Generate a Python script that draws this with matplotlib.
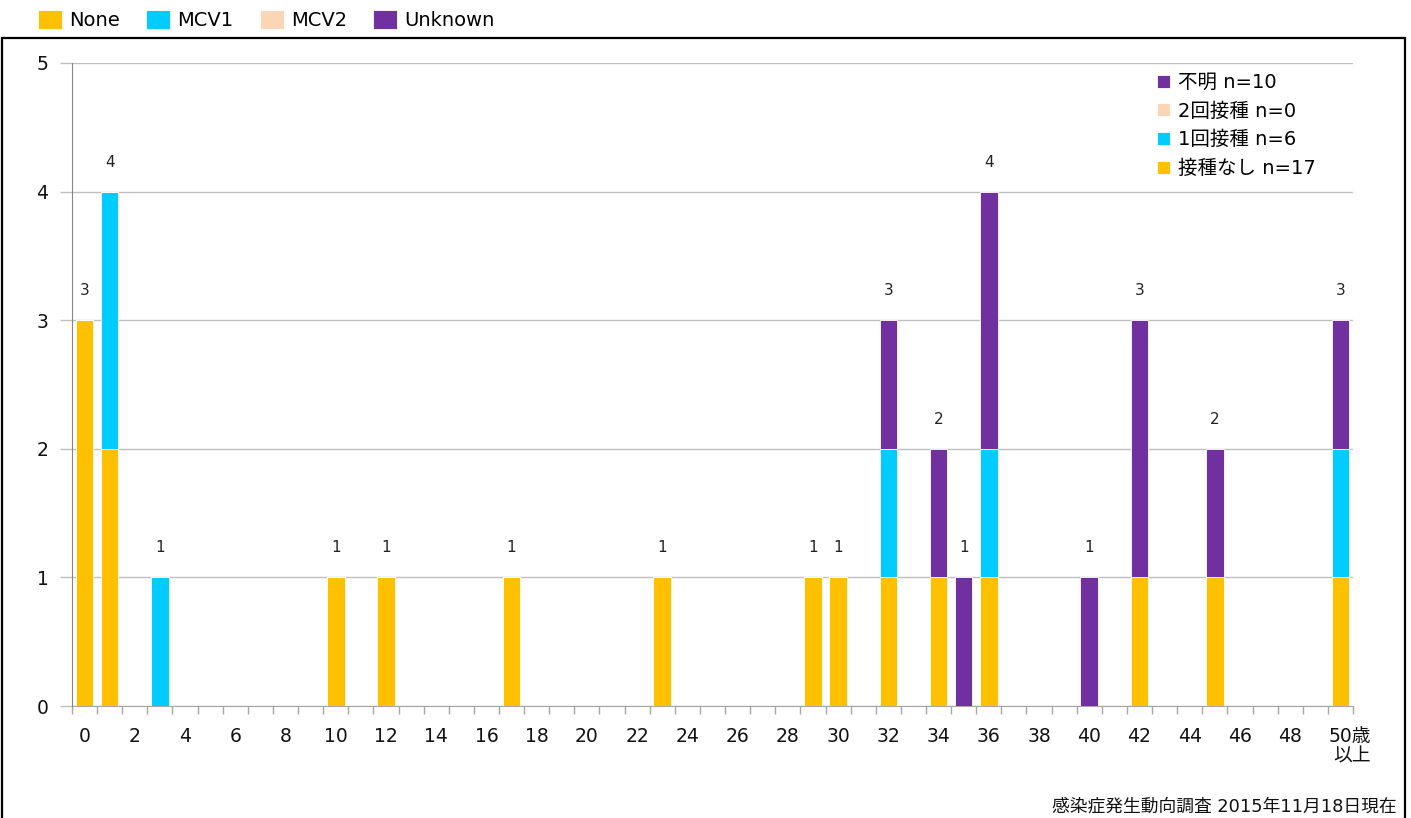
import matplotlib
matplotlib.use("Agg")
import matplotlib.pyplot as plt
import matplotlib.patches as mpatches
import matplotlib.transforms as mtransforms
import numpy as np

plt.rcParams['font.family'] = ['DejaVu Sans', 'Noto Sans CJK JP']

# ---- data ----
ages = [0, 1, 3, 10, 12, 17, 23, 29, 30, 32, 34, 35, 36, 40, 42, 45, 50]
none_vals = [3, 2, 0, 1, 1, 1, 1, 1, 1, 1, 1, 0, 1, 0, 1, 1, 1]
mcv1_vals = [0, 2, 1, 0, 0, 0, 0, 0, 0, 1, 0, 0, 1, 0, 0, 0, 1]
mcv2_vals = [0, 0, 0, 0, 0, 0, 0, 0, 0, 0, 0, 0, 0, 0, 0, 0, 0]
unknown_vals = [0, 0, 0, 0, 0, 0, 0, 0, 0, 1, 1, 1, 2, 1, 2, 1, 1]
n_categories = 51
tick_labels = [str(a) for a in range(0, 50, 2)]
last_label = "50歳\n以上"
top_legend_labels = ["None", "MCV1", "MCV2", "Unknown"]
inner_legend_labels = ["接種なし n=17", "1回接種 n=6", "2回接種 n=0", "不明 n=10"]
source_text = "感染症発生動向調査 2015年11月18日現在"

colors = ["#FFC000", "#00CCFF", "#FCD5B5", "#7030A0"]

W, H = 1411, 818
fig = plt.figure(figsize=(W / 100, H / 100), dpi=100)

# outer frame
frame = mpatches.Rectangle((2 / W, -0.02), (1405 - 2) / W, 1 - 38 / H + 0.02,
                           transform=fig.transFigure, fill=False,
                           edgecolor='black', linewidth=1.6, zorder=0)
fig.add_artist(frame)

ax = fig.add_axes([72 / W, 1 - 706 / H, (1353 - 72) / W, (706 - 63) / H])

x = np.array(ages)
series = [none_vals, mcv1_vals, mcv2_vals, unknown_vals]
bottom = np.zeros(len(ages))
handles = []
for vals, c in zip(series, colors):
    v = np.array(vals, dtype=float)
    b = ax.bar(x, v, width=0.7, bottom=bottom, color=c, edgecolor='white',
               linewidth=0.6, zorder=3)
    handles.append(b)
    bottom = bottom + v

totals = bottom
for xi, t in zip(x, totals):
    ax.text(xi, t + 0.23, f"{int(t)}", ha='center', va='center', fontsize=11,
            color='#222222', zorder=4)

ax.set_xlim(-0.5, n_categories - 0.5)
ax.set_ylim(0, 5)
ax.set_yticks(range(0, 6))
ax.yaxis.grid(True, color='#BFBFBF', linewidth=1.0, zorder=0)
ax.set_axisbelow(True)
ax.tick_params(axis='y', length=9, width=1, color='#BFBFBF', labelsize=13.5,
               pad=8, labelcolor='#111111')

ax.set_xticks(range(0, 50, 2))
ax.set_xticklabels(tick_labels)
ax.set_xticks(np.arange(-0.5, n_categories, 1.0), minor=True)
ax.tick_params(axis='x', which='major', length=0, labelsize=13.5, pad=15,
               labelcolor='#111111')
ax.tick_params(axis='x', which='minor', length=6, width=1, color='#A6A6A6')

# last category label
off = mtransforms.offset_copy(ax.get_xaxis_transform(), fig=fig, x=-12, y=-21, units='dots')
ax.text(50, 0.0, last_label, transform=off, ha='left', va='top', fontsize=13.5,
        multialignment='right', color='#111111', linespacing=1.0)

for s in ['top', 'right']:
    ax.spines[s].set_visible(False)
ax.spines['left'].set_color('#868686')
ax.spines['bottom'].set_color('#A6A6A6')
ax.spines['left'].set_zorder(5)

# inner legend (reversed)
leg_in = ax.legend(handles[::-1], inner_legend_labels[::-1], loc='upper left',
                   bbox_to_anchor=((1157 - 72) / (1353 - 72), 1 - (73 - 63) / (706 - 63)),
                   frameon=False, fontsize=14, handlelength=0.65, handleheight=0.65,
                   handletextpad=0.45, labelspacing=0.5, borderpad=0, borderaxespad=0)

# top legend
fig.legend(handles, top_legend_labels, loc='upper left',
           bbox_to_anchor=(38 / W, 1 - 10 / H), ncol=4, frameon=False,
           fontsize=14, handlelength=1.25, handleheight=1.15, handletextpad=0.35,
           columnspacing=1.35, borderpad=0, borderaxespad=0)

fig.text(1397 / W, 1 - 806 / H, source_text, ha='right', va='center', fontsize=12.8,
         color='#111111')

fig.savefig("out.png", dpi=100)
